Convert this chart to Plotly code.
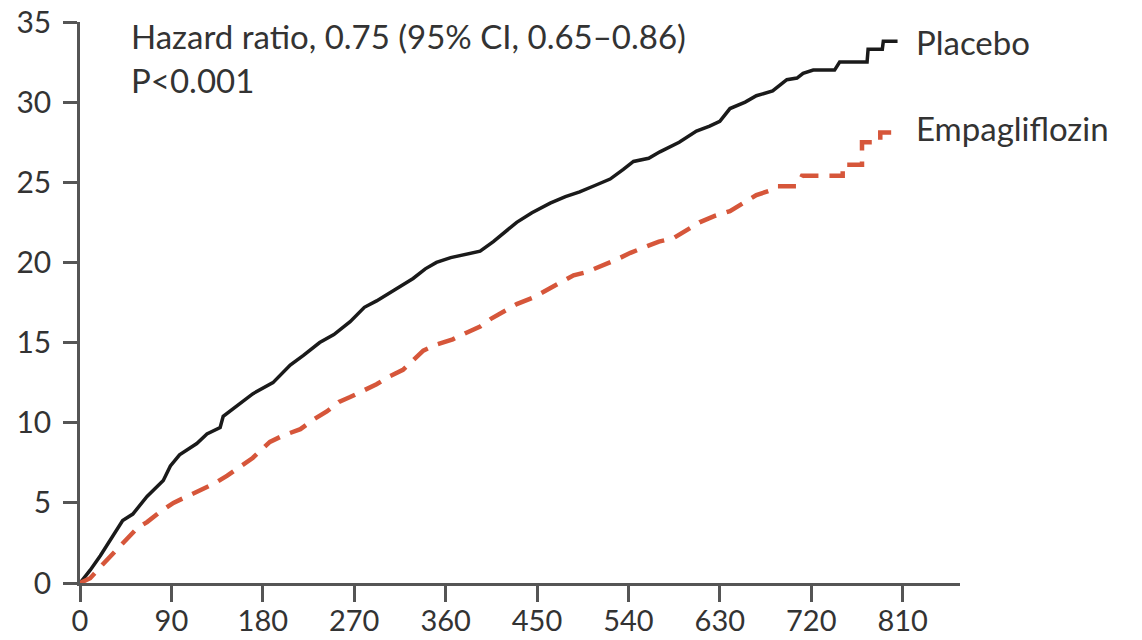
import plotly.graph_objects as go

# Cumulative incidence (%) by day since randomization.
# Repeated days mark the visible steps in the late part of each curve.
placebo_days = [0, 10, 20, 30, 38, 42, 52, 66, 82, 89, 98, 115, 125, 138, 141, 157, 170,
                190, 207, 220, 236, 250, 266, 280, 292, 310, 328, 340, 351, 365, 380, 394,
                407, 420, 430, 445, 463, 478, 492, 507, 522, 535, 545, 560, 571, 590, 607,
                620, 630, 640, 655, 666, 682, 696, 706, 712, 722, 743, 748, 775, 776, 790,
                791, 805]
placebo_pct = [0, 0.8, 1.7, 2.7, 3.6, 3.9, 4.3, 5.4, 6.4, 7.3, 8.0, 8.7, 9.3, 9.7, 10.4, 11.2, 11.8,
               12.5, 13.6, 14.2, 15.0, 15.5, 16.3, 17.2, 17.6, 18.3, 19.0, 19.6, 20.0, 20.3, 20.5, 20.7,
               21.3, 22.0, 22.5, 23.1, 23.7, 24.1, 24.4, 24.8, 25.2, 25.8, 26.3, 26.5, 26.9, 27.5, 28.2,
               28.5, 28.8, 29.6, 30.0, 30.4, 30.7, 31.4, 31.5, 31.8, 32.0, 32.0, 32.5, 32.5, 33.3, 33.3,
               33.8, 33.8]

empa_days = [0, 10, 23, 35, 46, 56, 66, 78, 92, 105, 118, 132, 145, 157, 170, 187, 200, 217,
             230, 243, 255, 266, 280, 292, 305, 318, 328, 338, 352, 367, 380, 394, 405, 417,
             430, 446, 460, 473, 486, 499, 515, 529, 542, 554, 570, 584, 597, 610, 625, 640,
             653, 666, 680, 686, 706, 711, 735, 751, 751, 770, 770, 788, 788, 805]
empa_pct = [0, 0.3, 1.2, 2.0, 2.8, 3.4, 3.8, 4.4, 5.0, 5.4, 5.8, 6.2, 6.7, 7.2, 7.8, 8.8, 9.2, 9.6,
            10.2, 10.7, 11.3, 11.6, 12.0, 12.4, 12.9, 13.3, 13.9, 14.5, 14.9, 15.2, 15.6, 16.0, 16.5, 16.9,
            17.4, 17.8, 18.3, 18.8, 19.2, 19.4, 19.8, 20.2, 20.6, 20.9, 21.3, 21.5, 22.0, 22.5, 22.9, 23.2,
            23.7, 24.2, 24.5, 24.75, 24.75, 25.4, 25.4, 25.4, 26.1, 26.1, 27.5, 27.5, 28.1, 28.1]

x_ticks = [0, 90, 180, 270, 360, 450, 540, 630, 720, 810]
y_ticks = [0, 5, 10, 15, 20, 25, 30, 35]

FONT = "Lato"
TEXT = "#333333"
AXIS = "#555555"

fig = go.Figure()
fig.add_trace(go.Scatter(
    x=placebo_days, y=placebo_pct, mode="lines", name="Placebo",
    line=dict(color="#1a1a1a", width=3.5), cliponaxis=False))
fig.add_trace(go.Scatter(
    x=empa_days, y=empa_pct, mode="lines", name="Empagliflozin",
    line=dict(color="#d6563a", width=4.5, dash="18px,11px"), cliponaxis=False))

fig.update_layout(
    width=1142, height=640,
    margin=dict(l=80, r=182, t=22, b=57, autoexpand=False),
    paper_bgcolor="white", plot_bgcolor="white",
    showlegend=False,
    font=dict(family=FONT, color=TEXT),
)
fig.update_xaxes(
    range=[0, 866.5], tickvals=x_ticks, ticktext=[str(v) for v in x_ticks],
    showgrid=False, zeroline=False, showline=True, linecolor=AXIS, linewidth=2.5,
    ticks="outside", ticklen=16, tickwidth=2.5, tickcolor=AXIS, automargin=False,
    tickfont=dict(family=FONT, size=29, color=TEXT), ticklabelstandoff=-6)
fig.update_yaxes(
    range=[0, 35], tickvals=y_ticks, ticktext=[str(v) for v in y_ticks],
    showgrid=False, zeroline=False, showline=True, linecolor=AXIS, linewidth=2.5,
    ticks="outside", ticklen=14, tickwidth=2.5, tickcolor=AXIS, automargin=False,
    tickfont=dict(family=FONT, size=30, color=TEXT), ticklabelstandoff=6)

ann_font = dict(family=FONT, size=33, color=TEXT)
fig.add_annotation(x=48, y=34.1, xref="x", yref="y", xanchor="left", yanchor="middle",
                   text="Hazard ratio, 0.75 (95% CI, 0.65–0.86)", showarrow=False, font=ann_font)
fig.add_annotation(x=48, y=31.4, xref="x", yref="y", xanchor="left", yanchor="middle",
                   text="P<0.001", showarrow=False, font=ann_font)
fig.add_annotation(x=821, y=33.75, xref="x", yref="y", xanchor="left", yanchor="middle",
                   text="Placebo", showarrow=False, font=ann_font)
fig.add_annotation(x=821, y=28.4, xref="x", yref="y", xanchor="left", yanchor="middle",
                   text="Empagliflozin", showarrow=False, font=ann_font)

fig.write_html("out.html")
